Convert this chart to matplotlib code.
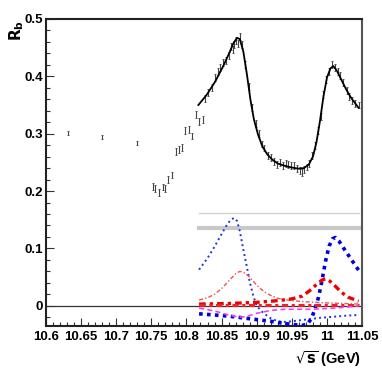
import numpy as np
import matplotlib
matplotlib.use("Agg")
import matplotlib.pyplot as plt
from matplotlib.ticker import FixedLocator, FixedFormatter, MultipleLocator

plt.rcParams['font.family'] = ['Liberation Sans', 'DejaVu Sans']
plt.rcParams['mathtext.fontset'] = 'dejavusans'

# ---- data points (sqrt(s) in GeV, R_b) ----
pts_E = [10.631, 10.680, 10.730,
         10.752, 10.755, 10.761, 10.767, 10.769, 10.774, 10.779,
         10.785, 10.789, 10.794, 10.798, 10.804, 10.808, 10.814, 10.818, 10.824,
         10.826, 10.831, 10.836, 10.840, 10.845, 10.848, 10.852, 10.856, 10.860,
         10.864, 10.866, 10.868, 10.870, 10.873, 10.876, 10.879, 10.884, 10.889,
         10.894, 10.899, 10.903, 10.907, 10.911, 10.916, 10.920, 10.925, 10.929,
         10.933, 10.937, 10.941, 10.945, 10.949, 10.953, 10.957, 10.961, 10.964,
         10.967, 10.971, 10.975, 10.979, 10.983, 10.987, 10.991, 10.995, 10.999,
         11.003, 11.007, 11.011, 11.015, 11.019, 11.023, 11.028, 11.032, 11.036,
         11.040, 11.045]
pts_R = [0.301, 0.294, 0.284,
         0.208, 0.205, 0.197, 0.207, 0.205, 0.220, 0.228,
         0.269, 0.272, 0.276, 0.305, 0.308, 0.296, 0.333, 0.321, 0.324,
         0.362, 0.372, 0.380, 0.398, 0.408, 0.415, 0.424, 0.428, 0.437,
         0.452, 0.447, 0.455, 0.462, 0.458, 0.470, 0.455, 0.420, 0.383,
         0.345, 0.318, 0.300, 0.282, 0.275, 0.262, 0.258, 0.252, 0.246,
         0.250, 0.245, 0.248, 0.246, 0.244, 0.245, 0.240, 0.236, 0.232,
         0.238, 0.242, 0.248, 0.262, 0.280, 0.305, 0.330, 0.368, 0.395,
         0.408, 0.420, 0.416, 0.408, 0.402, 0.390, 0.375, 0.365, 0.358,
         0.352, 0.350]
pts_err = [0.004, 0.004, 0.004] + [0.006] * (len(pts_E) - 3)

# ---- total fit ----
fit_E = [10.817, 10.829, 10.841, 10.852, 10.860, 10.867, 10.872, 10.876, 10.881,
         10.886, 10.891, 10.896, 10.902, 10.908, 10.915, 10.922, 10.930, 10.940,
         10.950, 10.960, 10.967, 10.974, 10.980, 10.985, 10.990, 10.995, 11.000,
         11.005, 11.009, 11.014, 11.020, 11.027, 11.034, 11.045]
fit_R = [0.350, 0.368, 0.391, 0.417, 0.438, 0.458, 0.467, 0.465, 0.443,
         0.404, 0.360, 0.325, 0.298, 0.278, 0.264, 0.255, 0.248, 0.244,
         0.241, 0.239, 0.240, 0.246, 0.260, 0.285, 0.322, 0.365, 0.398,
         0.414, 0.418, 0.410, 0.395, 0.378, 0.363, 0.345]

# ---- components ----
blue1_E = [10.818, 10.830, 10.840, 10.850, 10.858, 10.864, 10.868, 10.872, 10.876,
           10.881, 10.886, 10.890, 10.895, 10.900, 10.905, 10.910, 10.920, 10.930,
           10.940, 10.950, 10.970, 10.990, 11.010, 11.030, 11.045]
blue1_R = [0.063, 0.083, 0.103, 0.125, 0.142, 0.151, 0.153, 0.148, 0.130,
           0.098, 0.068, 0.042, 0.018, 0.000, -0.007, -0.013, -0.022, -0.027,
           -0.028, -0.027, -0.024, -0.021, -0.019, -0.017, -0.016]

blue2_E = [10.818, 10.840, 10.860, 10.880, 10.900, 10.920, 10.940, 10.955, 10.965,
           10.972, 10.978, 10.983, 10.988, 10.993, 10.998, 11.003, 11.008, 11.012,
           11.017, 11.025, 11.035, 11.045]
blue2_R = [-0.014, -0.016, -0.018, -0.021, -0.024, -0.027, -0.031, -0.033, -0.034,
           -0.032, -0.022, -0.005, 0.015, 0.045, 0.078, 0.104, 0.117, 0.119,
           0.113, 0.098, 0.080, 0.062]

red1_E = [10.818, 10.830, 10.840, 10.850, 10.860, 10.870, 10.876, 10.882, 10.890,
          10.900, 10.910, 10.920, 10.930, 10.950, 10.970, 11.000, 11.045]
red1_R = [0.010, 0.014, 0.020, 0.030, 0.043, 0.056, 0.060, 0.058, 0.050,
          0.036, 0.025, 0.018, 0.013, 0.009, 0.007, 0.005, 0.003]

red2_E = [10.818, 10.860, 10.900, 10.930, 10.950, 10.965, 10.975, 10.985, 10.993,
          10.998, 11.004, 11.012, 11.020, 11.030, 11.045]
red2_R = [0.003, 0.004, 0.006, 0.009, 0.012, 0.017, 0.026, 0.037, 0.045,
          0.047, 0.043, 0.034, 0.024, 0.015, 0.008]

red3_E = [10.818, 11.045]
red3_R = [0.002, 0.002]

mag_E = [10.818, 10.840, 10.860, 10.875, 10.885, 10.900, 10.920, 10.940, 10.980,
         11.010, 11.030, 11.045]
mag_R = [-0.004, -0.009, -0.016, -0.020, -0.019, -0.013, -0.008, -0.006, -0.006,
         -0.004, -0.002, 0.000]

band_E = [10.818, 11.045]
band_thin_R = [0.161, 0.161]
band_thick_R = [0.136, 0.136]

xticks = [10.6, 10.65, 10.7, 10.75, 10.8, 10.85, 10.9, 10.95, 11.0, 11.05]
xtick_labels = ["10.6", "10.65", "10.7", "10.75", "10.8", "10.85", "10.9", "10.95", "11", "11.05"]
yticks = [0.0, 0.1, 0.2, 0.3, 0.4, 0.5]
ytick_labels = ["0", "0.1", "0.2", "0.3", "0.4", "0.5"]

fig = plt.figure(figsize=(3.82, 3.72), dpi=100)
ax = fig.add_axes([0.120, 0.124, 0.828, 0.825])
ax.set_xlim(10.6, 11.05)
ax.set_ylim(-0.035, 0.5)

ax.axhline(0.0, color='#333333', lw=0.9, zorder=1)

ax.plot(band_E, band_thin_R, color='#d4d4d4', lw=1.0, zorder=2)
ax.plot(band_E, band_thick_R, color='#c8c8c8', lw=3.0, zorder=2)

ax.plot(blue1_E, blue1_R, color='#2233dd', lw=1.4, ls=(0, (1, 1.6)), zorder=3)
ax.plot(blue2_E, blue2_R, color='#0000dd', lw=2.6, ls=(0, (1, 1.2)), zorder=3)
ax.plot(red1_E, red1_R, color='#ee5555', lw=1.0, ls=(0, (3, 1.5, 1, 1.5)), zorder=3)
ax.plot(red2_E, red2_R, color='#ee0000', lw=2.4, ls=(0, (2, 1.2, 1, 1.2)), zorder=3)
ax.plot(red3_E, red3_R, color='#ee2222', lw=2.2, ls=(0, (2, 1.2, 1, 1.2)), zorder=3)
ax.plot(mag_E, mag_R, color='#ee44ee', lw=1.2, ls=(0, (3, 2)), zorder=3)

ax.errorbar(pts_E, pts_R, yerr=pts_err, fmt='none', ecolor='#444444',
            elinewidth=0.8, capsize=1.0, capthick=0.6, zorder=4)
ax.plot(fit_E, fit_R, color='black', lw=1.3, zorder=5)

ax.xaxis.set_major_locator(FixedLocator(xticks))
ax.xaxis.set_major_formatter(FixedFormatter(xtick_labels))
ax.xaxis.set_minor_locator(MultipleLocator(0.01))
ax.yaxis.set_major_locator(FixedLocator(yticks))
ax.yaxis.set_major_formatter(FixedFormatter(ytick_labels))
ax.yaxis.set_minor_locator(MultipleLocator(0.02))

ax.tick_params(axis='both', which='both', direction='in', top=False, right=False,
               labelsize=9.5, width=0.8, color='#333333')
ax.tick_params(axis='both', which='major', length=6)
ax.tick_params(axis='both', which='minor', length=3)
ax.tick_params(axis='x', pad=4)
ax.tick_params(axis='y', pad=2)
for lab in ax.get_xticklabels() + ax.get_yticklabels():
    lab.set_fontweight('bold')

for side in ['left', 'bottom', 'top', 'right']:
    ax.spines[side].set_linewidth(1.5)
    ax.spines[side].set_color('#222222')
ax.spines['right'].set_color('#555555')

fig.text(0.018, 0.945, r'$\mathbf{R_b}$', rotation=90, ha='left', va='top', fontsize=11)
fig.text(0.945, 0.008, r'$\sqrt{\mathbf{s}}$ (GeV)', ha='right', va='bottom',
         fontsize=10.5, fontweight='bold')

fig.savefig('out.png', dpi=100)
